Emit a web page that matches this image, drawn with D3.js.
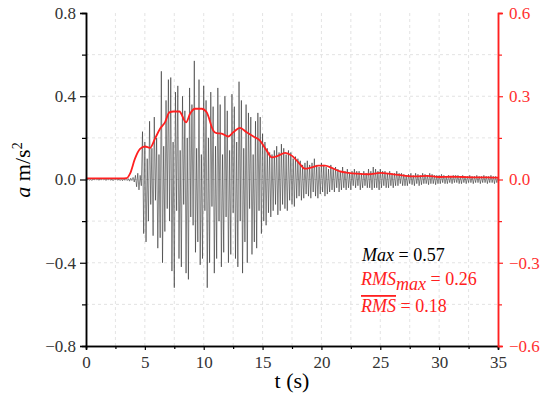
<!DOCTYPE html>
<html>
<head>
<meta charset="utf-8">
<script src="https://cdn.jsdelivr.net/npm/d3@7"></script>
<style>
  body { margin: 0; background: #fff; }
  .grid line { stroke: #dcdcdc; stroke-dasharray: 3,3; stroke-width: 0.8; }
</style>
</head>
<body>
<div id="chart"></div>
<script>
// acceleration record, sampled every 0.1 s from t = 0 to 35 s (left axis, m/s^2)
const dt = 0.1;
const accel = [
  0.004,-0.003,0.005,-0.004,0.002,-0.005,0.003,-0.002,0.004,-0.003,
  0.003,-0.004,0.005,-0.003,0.004,-0.002,0.003,-0.005,0.004,-0.003,
  0.005,-0.004,0.003,-0.006,0.004,-0.003,0.006,-0.004,0.003,-0.005,
  0.004,-0.006,0.005,-0.004,0.007,-0.005,0.004,-0.008,0.006,-0.005,
  0.01,-0.012,0.02,-0.035,0.03,-0.05,0.02,-0.03,0.23,-0.26,
  0.18,-0.3,0.1,-0.2,0.28,-0.12,0.15,-0.27,0.3,-0.1,
  0.2,-0.33,0.12,-0.28,0.52,-0.4,0.16,-0.25,0.38,-0.14,
  0.48,-0.2,0.49,-0.44,0.18,-0.52,0.42,-0.15,0.45,-0.38,
  0.14,-0.42,0.4,-0.12,0.33,-0.45,0.2,-0.48,0.44,-0.18,
  0.36,-0.22,0.57,-0.35,0.15,-0.3,0.48,-0.41,0.12,-0.38,
  0.45,-0.15,0.38,-0.52,0.2,-0.4,0.42,-0.13,0.35,-0.45,
  0.16,-0.38,0.44,-0.2,0.36,-0.42,0.12,-0.35,0.4,-0.18,
  0.33,-0.4,0.14,-0.36,0.41,-0.16,0.35,-0.38,0.18,-0.42,
  0.47,-0.2,0.38,-0.45,0.15,-0.3,0.36,-0.4,0.32,-0.14,
  0.3,-0.36,0.12,-0.3,0.28,-0.33,0.32,-0.15,0.3,-0.26,
  0.22,-0.2,0.18,-0.22,0.15,-0.16,0.13,-0.18,0.12,-0.15,
  0.14,-0.12,0.16,-0.17,0.13,-0.15,0.17,-0.12,0.15,-0.14,
  0.12,-0.15,0.14,-0.1,0.13,-0.12,0.1,-0.13,0.11,-0.09,
  0.1,-0.08,0.09,-0.1,0.07,-0.09,0.08,-0.07,0.09,-0.08,
  0.07,-0.09,0.08,-0.06,0.1,-0.08,0.07,-0.09,0.06,-0.07,
  0.08,-0.06,0.07,-0.08,0.06,-0.07,0.05,-0.06,0.07,-0.05,
  0.05,-0.06,0.06,-0.04,0.05,-0.06,0.04,-0.05,0.06,-0.04,
  0.04,-0.05,0.05,-0.04,0.03,-0.05,0.04,-0.03,0.05,-0.04,
  0.04,-0.03,0.04,-0.05,0.03,-0.04,0.04,-0.03,0.03,-0.04,
  0.05,-0.04,0.04,-0.05,0.06,-0.04,0.05,-0.04,0.04,-0.05,
  0.05,-0.04,0.04,-0.03,0.04,-0.04,0.03,-0.04,0.04,-0.03,
  0.03,-0.04,0.03,-0.03,0.04,-0.03,0.03,-0.02,0.03,-0.03,
  0.025,-0.03,0.02,-0.03,0.025,-0.02,0.03,-0.025,0.02,-0.03,
  0.03,-0.02,0.025,-0.03,0.02,-0.025,0.03,-0.02,0.025,-0.02,
  0.02,-0.025,0.03,-0.02,0.025,-0.02,0.02,-0.025,0.02,-0.02,
  0.02,-0.02,0.025,-0.015,0.02,-0.02,0.015,-0.02,0.02,-0.015,
  0.015,-0.02,0.02,-0.015,0.02,-0.015,0.02,-0.02,0.015,-0.02,
  0.02,-0.015,0.015,-0.02,0.015,-0.015,0.02,-0.015,0.015,-0.02,
  0.015,-0.015,0.02,-0.015,0.015,-0.02,0.015,-0.015,0.02,-0.015,
  0.015,-0.02,0.015,-0.015,0.02,-0.015,0.015,-0.02,0.015,-0.015,
  0.01
];

// running RMS (right axis)
const rmsTime = [0, 1, 2, 3, 3.46, 3.74, 4.16, 4.59, 5.01, 5.44, 5.86, 6.29, 6.71, 7.08, 7.42, 7.93,
  8.5, 8.84, 9.26, 9.83, 10.25, 10.82, 11.1, 11.53, 12.09, 12.51, 13.08, 13.65, 14.21, 14.78,
  15.35, 15.78, 16.34, 16.91, 17.48, 18.04, 18.61, 19.18, 19.74, 20.31, 20.88, 21.58, 22.29,
  23, 24, 25, 26, 27, 28, 29, 30, 31, 32, 33, 34, 35];
const rmsValue = [0.004, 0.004, 0.004, 0.004, 0.005, 0.021, 0.075, 0.11, 0.119, 0.114, 0.147, 0.183, 0.206, 0.242, 0.245, 0.245,
  0.206, 0.237, 0.255, 0.255, 0.242, 0.176, 0.167, 0.165, 0.155, 0.17, 0.186, 0.17, 0.155, 0.14,
  0.104, 0.08, 0.086, 0.096, 0.086, 0.062, 0.039, 0.044, 0.05, 0.05, 0.042, 0.029, 0.024,
  0.021, 0.019, 0.024, 0.019, 0.014, 0.011, 0.013, 0.009, 0.01, 0.009, 0.008, 0.008, 0.007];

const xTicks = [0, 5, 10, 15, 20, 25, 30, 35];
const leftTicks = [-0.8, -0.4, 0.0, 0.4, 0.8];
const rightTicks = [-0.6, -0.3, 0.0, 0.3, 0.6];

const serif = "'Liberation Serif', 'Times New Roman', 'DejaVu Serif', serif";
const width = 550, height = 399;
const margin = {top: 13, right: 52, bottom: 53, left: 86};

const svg = d3.select("#chart").append("svg")
    .attr("width", width)
    .attr("height", height)
    .style("font-family", serif);

const x = d3.scaleLinear().domain([0, 35]).range([margin.left, width - margin.right]);
const yL = d3.scaleLinear().domain([-0.8, 0.8]).range([height - margin.bottom, margin.top]);
const yR = d3.scaleLinear().domain([-0.6, 0.6]).range([height - margin.bottom, margin.top]);

// dashed grid every 2.5 s and 0.2 m/s^2
const grid = svg.append("g").attr("class", "grid");
grid.selectAll(".gx").data(d3.range(1, 14).map(i => i * 2.5)).enter().append("line")
    .attr("x1", d => x(d)).attr("x2", d => x(d))
    .attr("y1", yL(-0.8)).attr("y2", yL(0.8));
grid.selectAll(".gy").data(d3.range(-3, 4).map(i => i * 0.2)).enter().append("line")
    .attr("x1", x(0)).attr("x2", x(35))
    .attr("y1", d => yL(d)).attr("y2", d => yL(d));

// acceleration trace
const line = d3.line()
    .x((d, i) => x(i * dt))
    .y(d => yL(d));
svg.append("path")
    .datum(accel)
    .attr("fill", "none")
    .attr("stroke", "#1a1a1a")
    .attr("stroke-width", 0.6)
    .attr("stroke-opacity", 0.85)
    .attr("d", line);

// RMS envelope
const rmsLine = d3.line()
    .x((d, i) => x(rmsTime[i]))
    .y(d => yR(d))
    .curve(d3.curveMonotoneX);
svg.append("path")
    .datum(rmsValue)
    .attr("fill", "none")
    .attr("stroke", "#ff2020")
    .attr("stroke-width", 1.8)
    .attr("d", rmsLine);

// axes
const fmt = d => (d < 0 ? "\u2212" : "") + Math.abs(d).toFixed(1);

svg.append("g")
    .attr("transform", `translate(0,${height - margin.bottom})`)
    .call(d3.axisBottom(x).tickValues(xTicks).tickSize(4).tickPadding(6).tickFormat(d3.format("d")));
svg.append("g")
    .attr("transform", `translate(0,${height - margin.bottom})`)
    .call(d3.axisBottom(x).tickValues(d3.range(0, 7).map(i => i * 5 + 2.5)).tickSize(3).tickFormat(""));

svg.append("g")
    .attr("transform", `translate(${margin.left},0)`)
    .call(d3.axisLeft(yL).tickValues(leftTicks).tickSize(6).tickPadding(4).tickFormat(fmt));
svg.append("g")
    .attr("transform", `translate(${margin.left},0)`)
    .call(d3.axisLeft(yL).tickValues([-0.6, -0.2, 0.2, 0.6]).tickSize(4).tickFormat(""));

svg.append("g")
    .attr("class", "raxis")
    .attr("transform", `translate(${width - margin.right},0)`)
    .call(d3.axisRight(yR).tickValues(rightTicks).tickSize(5).tickPadding(6).tickFormat(fmt));
svg.append("g")
    .attr("class", "raxis")
    .attr("transform", `translate(${width - margin.right},0)`)
    .call(d3.axisRight(yR).tickValues([-0.45, -0.15, 0.15, 0.45]).tickSize(4).tickFormat(""));

svg.selectAll(".domain").attr("stroke-width", 1.5);
svg.selectAll(".tick line").attr("stroke-width", 1.2);
svg.selectAll(".tick text").attr("font-size", 17).attr("fill", "#333");
svg.selectAll(".raxis .domain, .raxis .tick line").attr("stroke", "#ff2020");
svg.selectAll(".raxis .tick text").attr("fill", "#ff3030");

// axis titles
svg.append("text")
    .attr("x", (x(0) + x(35)) / 2)
    .attr("y", 388)
    .attr("text-anchor", "middle")
    .attr("font-size", 22)
    .text("t (s)");

const yTitle = svg.append("text")
    .attr("transform", "translate(30,170) rotate(-90)")
    .attr("text-anchor", "middle")
    .attr("font-size", 22);
yTitle.append("tspan").attr("font-style", "italic").text("a");
yTitle.append("tspan").text(" m/s");
yTitle.append("tspan").attr("dy", -8).attr("font-size", 14).text("2");

// annotations
const ann = svg.append("g").attr("font-size", 18);
const t1 = ann.append("text").attr("x", 362).attr("y", 261).attr("fill", "#000");
t1.append("tspan").attr("font-style", "italic").text("Max");
t1.append("tspan").text(" = 0.57");

const t2 = ann.append("text").attr("x", 361).attr("y", 285).attr("fill", "#ff2020");
t2.append("tspan").attr("font-style", "italic").text("RMS");
t2.append("tspan").attr("font-style", "italic").attr("dy", 5).text("max");
t2.append("tspan").attr("dy", -5).text(" = 0.26");

const t3 = ann.append("text").attr("x", 361).attr("y", 312).attr("fill", "#ff2020");
t3.append("tspan").attr("font-style", "italic").attr("text-decoration", "overline").text("RMS");
t3.append("tspan").text(" = 0.18");

svg.selectAll("g").attr("font-family", null);
svg.selectAll("text").style("font-family", serif);
</script>
</body>
</html>
